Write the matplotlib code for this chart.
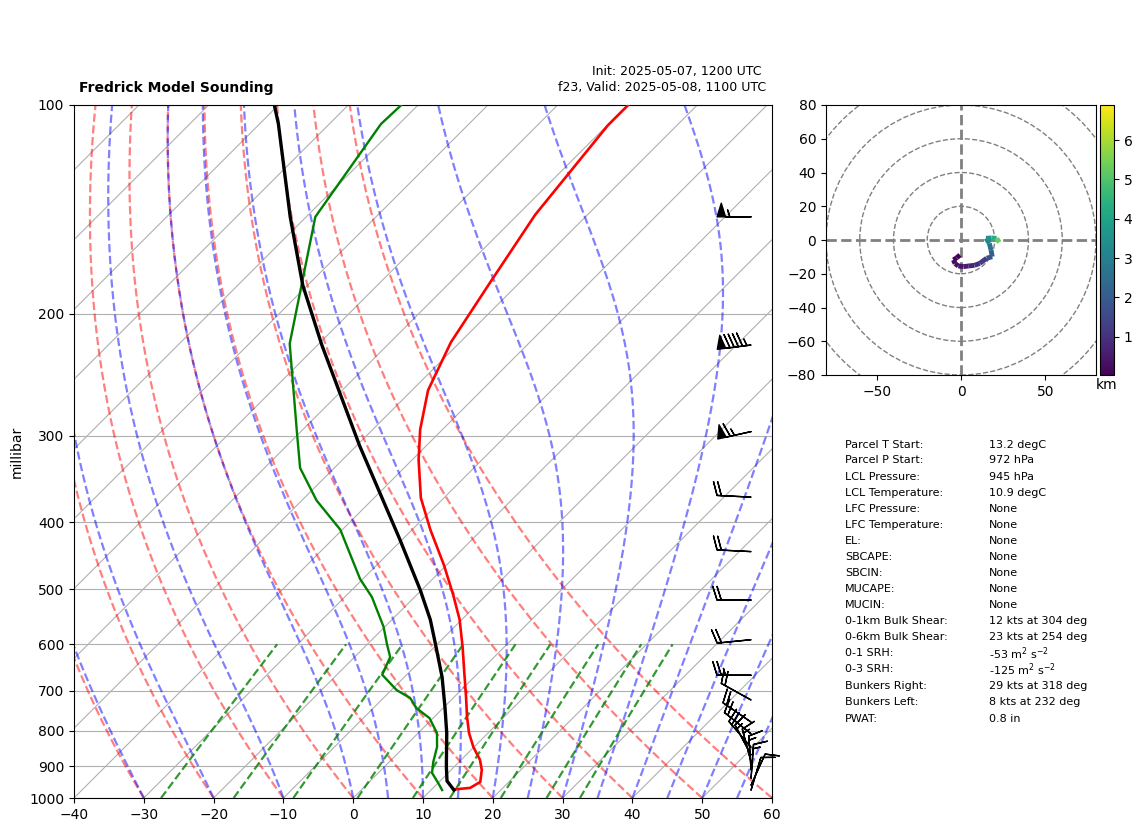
import numpy as np
import matplotlib
matplotlib.use('Agg')
import matplotlib.pyplot as plt
from matplotlib.collections import LineCollection
from matplotlib.cm import ScalarMappable
from matplotlib.colors import Normalize

# sounding
temp_p = [972, 967, 948, 911, 881, 844, 806, 764, 715, 660, 605, 553, 509, 461, 410, 369, 325, 294, 258, 220, 181, 144, 107, 100]
temp_c = [13.2, 15.3, 15.9, 14.4, 12.7, 9.9, 7.3, 4.7, 1.7, -2.0, -6.0, -10.3, -14.8, -20.4, -27.4, -33.3, -39.1, -43.2, -47.7, -51.3, -54.2, -57.5, -59.9, -59.9]
dewp_p = [974, 951, 920, 887, 844, 806, 767, 742, 717, 699, 664, 626, 601, 566, 513, 483, 410, 372, 334, 299, 221, 145, 106.5, 100]
dewp_c = [11.6, 10.0, 7.7, 6.3, 4.7, 2.7, -0.5, -3.8, -6.2, -9.2, -13.5, -14.9, -17.1, -20.2, -26.1, -30.4, -40.3, -47.9, -54.9, -60.1, -74.2, -88.7, -92.6, -92.4]
parcel_p = [974, 945, 902, 806, 739, 669, 597, 553, 501, 424, 310, 222, 182, 145, 106.5, 100]
parcel_c = [13.3, 11.0, 8.9, 4.1, 0.1, -4.6, -10.5, -14.5, -20.2, -30.3, -49.6, -69.4, -80.7, -92.3, -107.3, -110.6]

barb_p = [974, 958, 937, 911, 887, 867, 845, 808, 777, 722, 665, 591, 518, 441, 368, 296, 222, 145]
barb_u = [-3, -5, -1, 1, 4, 8, 12, 15, 16, 18, 25, 20, 20, 20, 20, 63, 94, 55]
barb_v = [-10, -11, -14, -15, -15, -15, -14, -12, -11, -10, 0, 2, 0, -1, -1, 14, 12, 0]

hodo_u = [-0.6, -2.5, -4.5, -3.5, -1.6, 1.5, 4.3, 8, 11.2, 15.2, 18.5, 17.8, 16.8, 14.8, 18, 21.1, 22.7]
hodo_v = [-8.9, -10.5, -11.8, -14, -15.4, -15.8, -15.4, -15, -13.8, -10.8, -9.9, -6, -2, 1, 1.2, 1, -1.4]
hodo_z = [0.03, 0.1, 0.2, 0.3, 0.4, 0.55, 0.7, 0.9, 1.2, 1.7, 2.1, 2.6, 3.1, 3.6, 4.3, 5.3, 6.89]

labels = ['Parcel T Start:', 'Parcel P Start:', 'LCL Pressure:', 'LCL Temperature:', 'LFC Pressure:',
          'LFC Temperature:', 'EL:', 'SBCAPE:', 'SBCIN:', 'MUCAPE:', 'MUCIN:', '0-1km Bulk Shear:',
          '0-6km Bulk Shear:', '0-1 SRH:', '0-3 SRH:', 'Bunkers Right:', 'Bunkers Left:', 'PWAT:']
values = ['13.2 degC', '972 hPa', '945 hPa', '10.9 degC', 'None', 'None', 'None', 'None', 'None', 'None',
          'None', '12 kts at 304 deg', '23 kts at 254 deg', r'-53 m$^2$ s$^{-2}$', r'-125 m$^2$ s$^{-2}$',
          '29 kts at 318 deg', '8 kts at 232 deg', '0.8 in']
label_rows = [444.5, 460.5, 476.5, 492.5, 508.5, 524.5, 541, 557, 573, 589, 605.5, 621.5, 637.5, 653.5, 669.5, 686, 702, 718.5]

W, H = 1142, 832
SKEW = 99.3  # deg C per decade of pressure
KAPPA = 0.2837


def skew(t, p):
    return np.asarray(t) + SKEW * np.log10(1000.0 / np.asarray(p, dtype=float))


def sat_vp(tc):
    return 6.112 * np.exp(17.67 * tc / (tc + 243.5))


def moist_rate(p, tk):
    rd, lv, eps = 287.0, 2.501e6, 0.622
    cp = rd / KAPPA
    es = sat_vp(tk - 273.15)
    rs = eps * es / (p - es)
    return (rd * tk + lv * rs) / (cp + lv * lv * rs * eps / (rd * tk * tk)) / p


def moist_line(t0, plev):
    out = [t0 + 273.15]
    for a, b in zip(plev[:-1], plev[1:]):
        h = b - a
        tk = out[-1]
        k1 = moist_rate(a, tk)
        k2 = moist_rate(a + h / 2, tk + h / 2 * k1)
        k3 = moist_rate(a + h / 2, tk + h / 2 * k2)
        k4 = moist_rate(b, tk + h * k3)
        out.append(tk + h / 6 * (k1 + 2 * k2 + 2 * k3 + k4))
    return np.array(out) - 273.15


def box(left, top, right, bottom):
    return [left / W, 1 - bottom / H, (right - left) / W, (bottom - top) / H]


fig = plt.figure(figsize=(W / 100, H / 100), dpi=100)
ax = fig.add_axes(box(74, 105, 772, 798))
ax.set_yscale('log')
ax.set_xlim(-40, 60)
ax.set_ylim(1000, 100)
ax.set_yticks(range(100, 1001, 100))
ax.set_yticklabels([str(v) for v in range(100, 1001, 100)])
ax.minorticks_off()
ax.set_xticks(range(-40, 61, 10))
ax.set_ylabel('millibar')
ax.yaxis.set_label_coords((24 - 74) / 698, 0.5)
ax.grid(True, axis='y', color='#b0b0b0', lw=0.8)

plev = np.linspace(1000, 100, 181)
for t in range(-130, 61, 10):
    ax.plot(skew(t, [1000, 100]), [1000, 100], color='#b0b0b0', lw=0.8, zorder=1)
for t in range(-40, 61, 10):
    ax.plot(skew((t + 273.15) * (plev / 1000) ** KAPPA - 273.15, plev), plev, 'r--', alpha=0.5, lw=1.6, zorder=2)
for t in list(range(-40, 0, 10)) + list(range(0, 61, 5)):
    ax.plot(skew(moist_line(t, plev), plev), plev, 'b--', alpha=0.5, lw=1.6, zorder=2)
pmix = np.linspace(1000, 600, 40)
for w in [0.0004, 0.001, 0.002, 0.004, 0.007, 0.01, 0.016, 0.024, 0.032]:
    e = pmix * w / (0.622 + w)
    td = 243.5 * np.log(e / 6.112) / (17.67 - np.log(e / 6.112))
    ax.plot(skew(td, pmix), pmix, 'g--', alpha=0.8, lw=1.6, zorder=2)

ax.plot(skew(temp_c, temp_p), temp_p, 'r', lw=1.9, zorder=4)
ax.plot(skew(dewp_c, dewp_p), dewp_p, 'g', lw=1.7, zorder=4)
ax.plot(skew(parcel_c, parcel_p), parcel_p, 'k', lw=2.4, zorder=5)
ax.barbs(np.full(len(barb_p), 57.0), barb_p, barb_u, barb_v, pivot='tip', length=7, clip_on=False, zorder=6)

fig.text(79 / W, 1 - 88 / H, 'Fredrick Model Sounding', fontweight='bold', fontsize=10, ha='left', va='center')
fig.text(762 / W, 1 - 71 / H, 'Init: 2025-05-07, 1200 UTC', fontsize=9, ha='right', va='center')
fig.text(766 / W, 1 - 88 / H, 'f23, Valid: 2025-05-08, 1100 UTC', fontsize=9, ha='right', va='center')

# hodograph
hax = fig.add_axes(box(826, 105, 1096, 375))
hax.set_xlim(-80, 80)
hax.set_ylim(-80, 80)
hax.set_xticks([-50, 0, 50])
hax.set_yticks(range(-80, 81, 20))
for r in [20, 40, 60, 80, 100]:
    hax.add_patch(plt.Circle((0, 0), r, fill=False, ls='--', ec='gray', lw=1))
hax.axhline(0, color='gray', ls='--', lw=2)
hax.axvline(0, color='gray', ls='--', lw=2)
pts = np.column_stack([hodo_u, hodo_v])
segs = np.stack([pts[:-1], pts[1:]], axis=1)
norm = Normalize(min(hodo_z), max(hodo_z))
lc = LineCollection(segs, cmap='viridis', norm=norm, lw=3.5, zorder=5)
lc.set_array(np.array(hodo_z[:-1]))
hax.add_collection(lc)

cax = fig.add_axes(box(1100, 105, 1114, 375))
cb = fig.colorbar(ScalarMappable(norm=norm, cmap='viridis'), cax=cax)
cb.set_ticks([1, 2, 3, 4, 5, 6])
cax.set_xlabel('km', labelpad=2)

for lab, val, y in zip(labels, values, label_rows):
    fig.text(845 / W, 1 - y / H, lab, fontsize=8, va='center')
    fig.text(989 / W, 1 - y / H, val, fontsize=8, va='center')

fig.savefig('out.png', dpi=100)
